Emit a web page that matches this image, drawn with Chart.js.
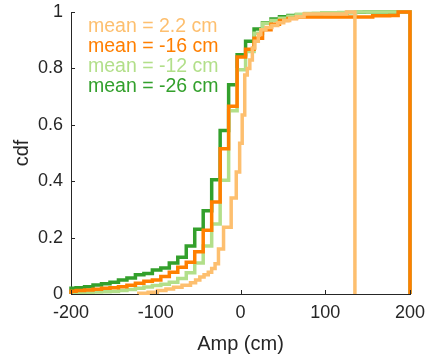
<!DOCTYPE html>
<html lang="en">
<head>
<meta charset="UTF-8">
<title>Amp cdf</title>
<script src="https://cdn.jsdelivr.net/npm/chart.js@4"></script>
<style>
  html, body { margin: 0; padding: 0; background: #fff; }
  .wrap { position: relative; width: 429px; height: 364px; }
</style>
</head>
<body>
<div class="wrap"><canvas id="chart" width="429" height="364"></canvas></div>
<script>
// ---------------------------------------------------------------------------
// Data — histogram stairs (bin left edges + cdf value of each bin)
// ---------------------------------------------------------------------------
const seriesNames = ['mean = 2.2 cm', 'mean = -16 cm', 'mean = -12 cm', 'mean = -26 cm'];
const seriesColors = ['#fdbf6f', '#ff7f00', '#b2df8a', '#33a02c'];

// shared bin edges for the three full-range series
const binEdges = [-200, -194, -184, -174, -164, -154, -144, -134, -124, -114, -104, -94, -84, -74,
  -64, -54, -44, -34, -24, -14, -4, 6, 16, 26, 36, 46, 56, 66, 76, 86, 96, 106, 116, 126,
  136, 146, 156, 166, 176, 186, 196, 200];

const cdfOrange = [0.01, 0.012, 0.014, 0.017, 0.02, 0.022, 0.026, 0.031, 0.038, 0.045,
  0.05, 0.062, 0.077, 0.095, 0.113, 0.15, 0.226, 0.326, 0.515, 0.666,
  0.84, 0.868, 0.907, 0.937, 0.957, 0.97, 0.977, 0.982, 0.982, 0.982,
  0.982, 0.982, 0.982, 0.982, 0.982, 0.982, 0.987, 0.987, 0.988, 1, 1];

const cdfLightGreen = [0.006, 0.006, 0.006, 0.007, 0.008, 0.009, 0.012, 0.016, 0.02, 0.025,
  0.03, 0.035, 0.042, 0.055, 0.075, 0.11, 0.17, 0.248, 0.403, 0.65,
  0.795, 0.86, 0.925, 0.96, 0.97, 0.978, 0.985, 0.992, 0.995, 0.996,
  0.997, 0.997, 0.998, 0.998, 1, 1, 1, 1, 1, 1, 1];

const cdfGreen = [0.02, 0.022, 0.026, 0.032, 0.036, 0.042, 0.05, 0.057, 0.068, 0.073,
  0.085, 0.092, 0.11, 0.13, 0.17, 0.23, 0.295, 0.405, 0.58, 0.742,
  0.848, 0.896, 0.94, 0.962, 0.975, 0.983, 0.988, 0.99, 0.992, 0.993,
  0.995, 0.996, 0.997, 0.998, 0.999, 1, 1, 1, 1, 1, 1];

// light orange has its own (narrower) range
const lightOrangeEdges = [-120, -109, -98, -88, -79, -69, -59, -53, -48, -43, -38, -34, -30, -26,
  -20, -11, -5, -1, 2, 5, 8, 11, 14, 17, 21, 24, 30, 37, 44, 51, 58, 66, 75, 125, 135];
const cdfLightOrange = [0.003, 0.006, 0.012, 0.018, 0.024, 0.031, 0.04, 0.05, 0.06, 0.068,
  0.077, 0.09, 0.107, 0.16, 0.237, 0.34, 0.433, 0.535, 0.635, 0.777,
  0.8, 0.83, 0.872, 0.896, 0.92, 0.937, 0.945, 0.952, 0.962, 0.97,
  0.977, 0.983, 0.993, 1];

const xTicks = [-200, -100, 0, 100, 200];
const yTicks = [0, 0.2, 0.4, 0.6, 0.8, 1];

// ---------------------------------------------------------------------------
// Build the stairs outline: up from 0, across each bin, back down to 0
// ---------------------------------------------------------------------------
function stairs(edges, vals) {
  const pts = [{ x: edges[0], y: 0 }];
  vals.forEach((v, i) => pts.push({ x: edges[i], y: v }));
  pts.push({ x: edges[edges.length - 1], y: 0 });
  return pts;
}

const seriesData = [
  stairs(lightOrangeEdges, cdfLightOrange),
  stairs(binEdges, cdfOrange),
  stairs(binEdges, cdfLightGreen),
  stairs(binEdges, cdfGreen),
];

const AXIS = '#262626';
const FONT = "'Liberation Sans', Arial, sans-serif";

// text legend + inward tick marks
const extras = {
  id: 'extras',
  afterDraw(chart) {
    const { ctx, chartArea: a, scales: { x, y } } = chart;
    ctx.save();
    ctx.strokeStyle = AXIS;
    ctx.lineWidth = 1;
    ctx.beginPath();
    xTicks.forEach(v => {
      const px = Math.round(x.getPixelForValue(v)) + 0.5;
      ctx.moveTo(px, a.bottom); ctx.lineTo(px, a.bottom - 4);
    });
    yTicks.forEach(v => {
      const py = Math.round(y.getPixelForValue(v)) + 0.5;
      ctx.moveTo(a.left, py); ctx.lineTo(a.left + 4, py);
    });
    ctx.stroke();

    ctx.font = '19.5px ' + FONT;
    ctx.textBaseline = 'alphabetic';
    ctx.textAlign = 'left';
    seriesNames.forEach((n, i) => {
      ctx.fillStyle = seriesColors[i];
      ctx.fillText(n, 88, 32 + i * 20);
    });
    ctx.restore();
  }
};

new Chart(document.getElementById('chart'), {
  type: 'line',
  data: {
    datasets: seriesNames.map((name, i) => ({
      label: name,
      data: seriesData[i],
      borderColor: seriesColors[i],
      borderWidth: 3.5,
      pointRadius: 0,
      fill: false,
      stepped: 'before',
      clip: 6,
      order: i,
    })),
  },
  options: {
    responsive: false,
    animation: false,
    layout: { padding: { left: 10, right: 19, top: 12, bottom: 6 } },
    plugins: { legend: { display: false }, tooltip: { enabled: false } },
    scales: {
      x: {
        type: 'linear',
        min: -200, max: 200,
        afterBuildTicks: s => { s.ticks = xTicks.map(v => ({ value: v })); },
        afterFit: s => { s.height = 64; s.paddingLeft = 0; s.paddingRight = 0; },
        grid: { display: false, drawTicks: false },
        border: { display: true, color: AXIS, width: 1 },
        ticks: { color: AXIS, font: { family: FONT, size: 18 }, padding: 8, maxRotation: 0,
                 callback: v => String(v) },
        title: { display: true, text: 'Amp (cm)', color: AXIS, font: { family: FONT, size: 20 },
                 padding: { top: 0, bottom: 2 } },
      },
      y: {
        min: 0, max: 1,
        afterBuildTicks: s => { s.ticks = yTicks.map(v => ({ value: v })); },
        afterFit: s => { s.width = 61; s.paddingTop = 0; s.paddingBottom = 0; },
        grid: { display: false, drawTicks: false },
        border: { display: true, color: AXIS, width: 1 },
        ticks: { color: AXIS, font: { family: FONT, size: 18 }, padding: 8,
                 callback: v => String(Number(v.toFixed(1))) },
        title: { display: true, text: 'cdf', color: AXIS, font: { family: FONT, size: 20 },
                 padding: { top: 0, bottom: 0 } },
      },
    },
  },
  plugins: [extras],
});
</script>
</body>
</html>
